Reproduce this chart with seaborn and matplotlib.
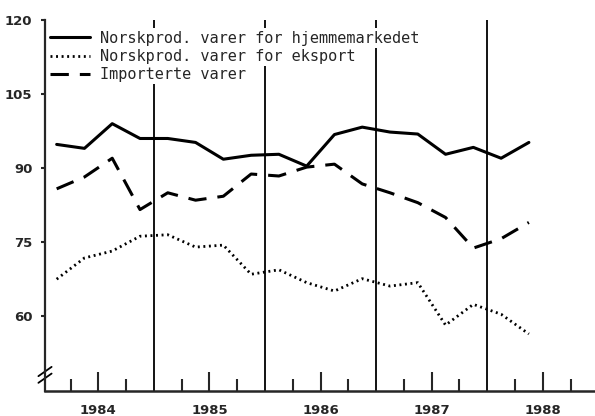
import numpy as np
import pandas as pd
import seaborn as sns
import matplotlib.pyplot as plt
from matplotlib.ticker import FixedLocator

# quarterly index, 1984Q1 - 1988Q2
years = [1984] * 4 + [1985] * 4 + [1986] * 4 + [1987] * 4 + [1988] * 2
quarters = [1, 2, 3, 4] * 4 + [1, 2]

hjemmemarked = [94.8, 94.0, 99.0, 96.0, 96.0, 95.2, 91.8, 92.6, 92.8, 90.4,
                96.8, 98.3, 97.3, 96.9, 92.8, 94.2, 92.0, 95.2]
eksport = [67.5, 71.8, 73.2, 76.2, 76.5, 74.0, 74.4, 68.5, 69.4, 66.8,
           65.1, 67.6, 66.1, 66.8, 58.2, 62.4, 60.4, 56.4]
importerte = [85.8, 88.2, 92.0, 81.6, 85.0, 83.5, 84.3, 88.8, 88.4, 90.2,
              90.8, 86.8, 85.0, 83.0, 80.0, 73.8, 75.7, 79.0]

labels = ['Norskprod. varer for hjemmemarkedet',
          'Norskprod. varer for eksport',
          'Importerte varer']
year_ticks = [1984, 1985, 1986, 1987, 1988]

df = pd.DataFrame({
    't': [y + (q - 0.5) / 4 for y, q in zip(years, quarters)],
    labels[0]: hjemmemarked,
    labels[1]: eksport,
    labels[2]: importerte,
})

sns.set_style('ticks')
plt.rcParams['font.family'] = ['DejaVu Sans']

fig = plt.figure(figsize=(5.95, 4.16), dpi=100)
ax = fig.add_axes([45 / 595, 1 - 391 / 416, 1 - 45 / 595, (391 - 20) / 416])

styles = [
    dict(color='black', linewidth=2.2, linestyle='-'),
    dict(color='black', linewidth=2.0, linestyle=(0, (0.7, 1.3))),
    dict(color='black', linewidth=2.2, linestyle=(0, (6, 3.6))),
]
for lab, st in zip(labels, styles):
    sns.lineplot(data=df, x='t', y=lab, ax=ax, label=lab, **st)

# year boundaries
for y in year_ticks[1:]:
    ax.axvline(y, color='black', linewidth=1.3, zorder=1)

ax.set_xlim(1984.02, 1988.97)
ax.set_ylim(44.85, 120)
ax.set_yticks([60, 75, 90, 105, 120])
ax.xaxis.set_major_locator(FixedLocator([y + 0.5 for y in year_ticks]))
ax.set_xticklabels([str(y) for y in year_ticks])
ax.xaxis.set_minor_locator(FixedLocator([y + f for y in year_ticks for f in (0.25, 0.75)]))
ax.tick_params(axis='x', which='major', direction='in', length=14, width=1.5,
               pad=9, labelsize=9.5)
ax.tick_params(axis='x', which='minor', direction='in', length=9, width=1.5)
ax.tick_params(axis='y', direction='out', length=3, width=1.5, pad=6, labelsize=9.5)
for lbl in ax.get_xticklabels() + ax.get_yticklabels():
    lbl.set_fontweight('bold')
ax.set_xlabel('')
ax.set_ylabel('')
sns.despine(ax=ax)
ax.spines['left'].set_linewidth(1.6)
ax.spines['bottom'].set_linewidth(1.8)

# axis break marks
for dy in (0.0, 0.018):
    ax.plot([-0.012, 0.012], [0.022 + dy, 0.047 + dy], transform=ax.transAxes,
            color='black', linewidth=1.3, clip_on=False)

leg = ax.legend(loc='upper left', bbox_to_anchor=(0.0, 0.984), frameon=False,
                prop={'family': 'DejaVu Sans Mono', 'size': 11},
                handlelength=2.65, handletextpad=0.62, labelspacing=0.22,
                borderaxespad=0.0, borderpad=0.3)
leg.set_zorder(5)
for txt in leg.get_texts():
    txt.set_bbox(dict(facecolor='white', edgecolor='none', pad=1.5))

fig.savefig('out.png', dpi=100)
